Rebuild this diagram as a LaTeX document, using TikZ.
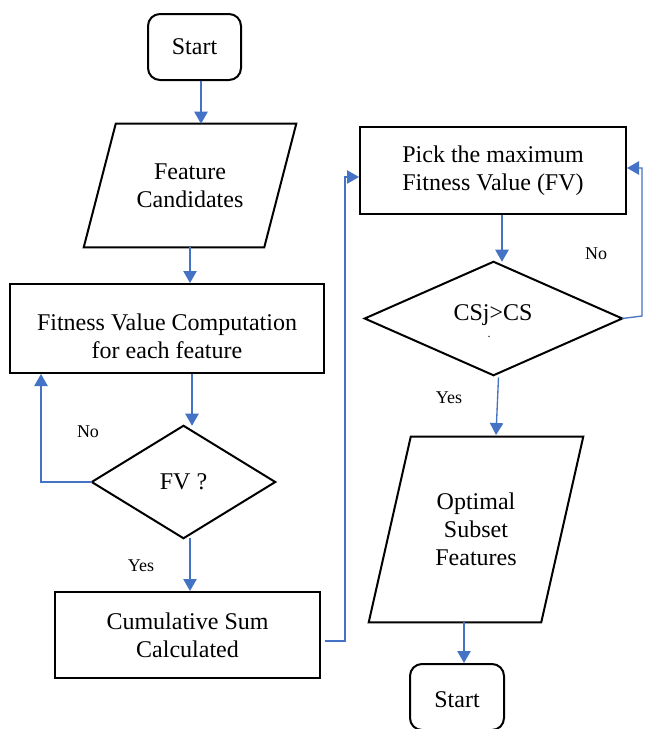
\documentclass[tikz,border=0pt]{standalone}
\usepackage{fontspec}
\setmainfont{Liberation Serif}
\usetikzlibrary{arrows.meta}
\definecolor{flowblue}{HTML}{4472C4}
\begin{document}
\begin{tikzpicture}[x=0.75pt,y=-0.75pt,
  lbl/.style={font=\fontsize{18}{21}\selectfont,align=center,inner sep=0pt},
  yn/.style={font=\fontsize{13.5}{15}\selectfont,inner sep=0pt},
  frame/.style={draw=black,line width=1.5pt,line join=miter},
  procbox/.style={frame,rectangle,inner sep=0pt},
  termbox/.style={frame,rectangle,rounded corners=9pt,inner sep=0pt},
  area/.style={rectangle,inner sep=0pt},
  link/.style={draw=flowblue,line width=1pt},
  flow/.style={link,-{Triangle[length=9pt,width=10pt]}}]
\useasboundingbox (0,0) rectangle (644,729);
\clip (0,0) rectangle (644,729);

% ---- left column ----
\node[termbox,minimum width=69.75pt,minimum height=49.5pt,lbl] (start) at (194.5,47) {Start};

\node[area,minimum width=159pt,minimum height=92.25pt,lbl] (feat) at (190,185.5) {Feature\\Candidates};
\draw[frame] (feat.south west) -- ([xshift=24pt]feat.north west) -- (feat.north east)
  -- ([xshift=-24pt]feat.south east) -- cycle;

\node[procbox,minimum width=235.5pt,minimum height=66.75pt] (fit) at (167,328.5) {};
\node[lbl] (fitT) at (167,336) {Fitness Value Computation\\for each feature};

\node[area,minimum width=137.25pt,minimum height=84pt,lbl] (fv) at (183.5,482) {FV ?};
\draw[frame] (fv.north) -- (fv.east) -- (fv.south) -- (fv.west) -- cycle;

\node[procbox,minimum width=198.75pt,minimum height=64.5pt,lbl] (cum) at (187.5,635) {Cumulative Sum\\Calculated};

% ---- right column ----
\node[procbox,minimum width=199.5pt,minimum height=65.25pt,lbl] (pick) at (493,170.5) {Pick the maximum\\Fitness Value (FV)};

\node[area,minimum width=192.75pt,minimum height=84.75pt] (cs) at (493.5,318.5) {};
\draw[frame] (cs.north) -- (cs.east) -- (cs.south) -- (cs.west) -- cycle;
\node[lbl] (csT) at (493,315) {CSj>CS};
\node[font=\fontsize{9}{10}\selectfont,inner sep=0pt] (csDot) at (489,337) {.};

\node[area,minimum width=160.5pt,minimum height=138.75pt,lbl] (opt) at (476,529.5) {Optimal\\Subset\\Features};
\draw[frame] (opt.south west) -- ([xshift=31.5pt]opt.north west) -- (opt.north east)
  -- ([xshift=-31.5pt]opt.south east) -- cycle;

\node[termbox,minimum width=70.5pt,minimum height=49.5pt] (finish) at (457,697) {};
\node[lbl] (finishT) at (457,700) {Start};

% ---- connectors ----
\draw[flow] (201,0 |- start.south) -- (201,0 |- feat.north);
\draw[flow] (190,0 |- feat.south) -- (190,0 |- fit.north);
\draw[flow] (192,0 |- fit.south) -- (192,0 |- fv.north);
\draw[flow] (fv.west) -- (41,0 |- fv.west) -- (41,0 |- fit.south);
\draw[flow] (190,0 |- fv.south) -- (190,0 |- cum.north);
\draw[flow] (cum.east) ++(4,6) -- (345,641) -- (345,177) -- (pick.west |- 0,177);
\draw[flow] (502,0 |- pick.south) -- (502,0 |- cs.north);
\draw[flow] (cs.east) -- (642,316) -- (642,168) -- (pick.east |- 0,168);
\draw[flow] (cs.south) ++(5,2) -- (496,435);
\draw[flow] (464,0 |- opt.south) -- (464,0 |- finish.north);

% ---- branch labels ----
\node[yn] (no1) at (88,432) {No};
\node[yn] (yes1) at (141,566) {Yes};
\node[yn] (no2) at (596,254) {No};
\node[yn] (yes2) at (449,398) {Yes};
\end{tikzpicture}
\end{document}
